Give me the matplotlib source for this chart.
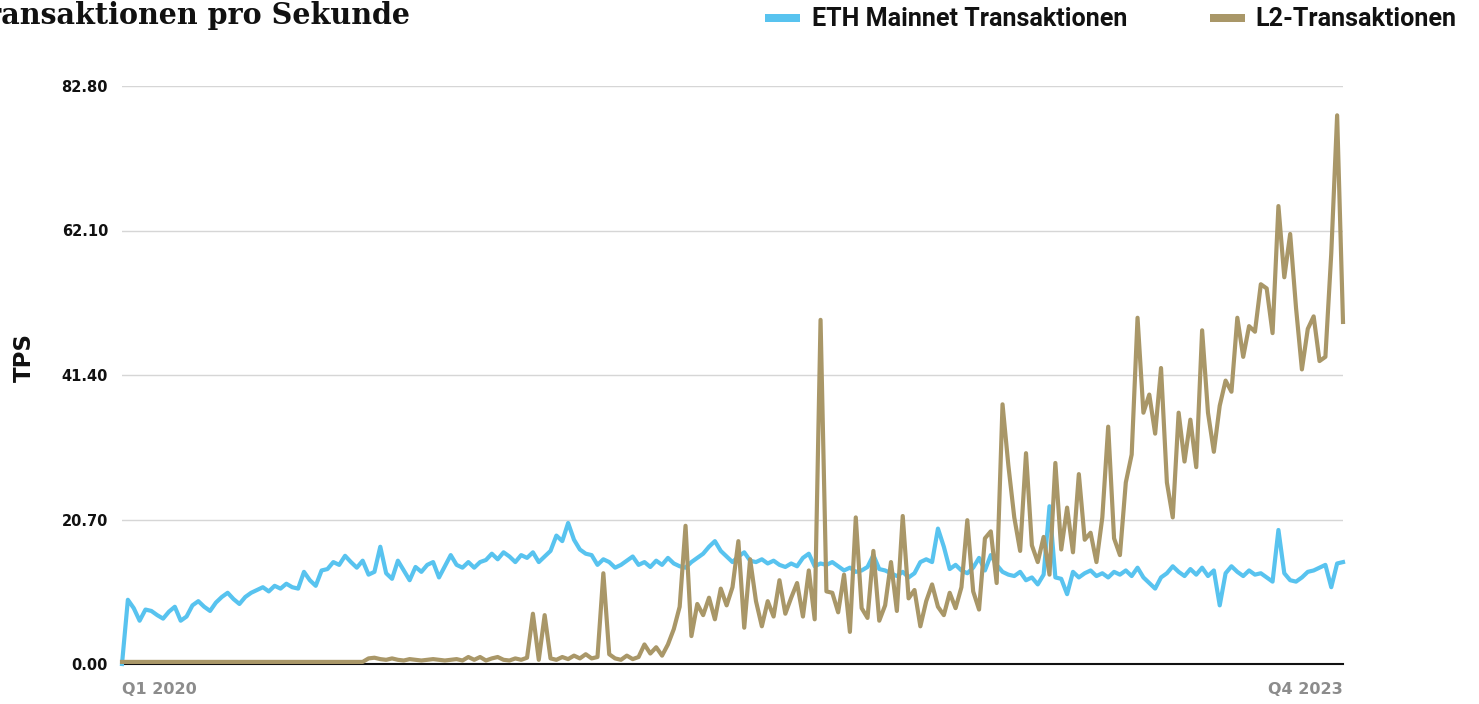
import matplotlib
matplotlib.use("Agg")
import matplotlib.pyplot as plt
import pandas as pd
from matplotlib.patches import Rectangle

# ---------------- data (weekly samples) ----------------
start_date = "2020-01-01"

eth_mainnet = [
    0.0, 9.2, 8.0, 6.2, 7.8, 7.6, 7.0, 6.5, 7.5, 8.2,
    6.2, 6.8, 8.4, 9.0, 8.2, 7.6, 8.8, 9.6, 10.2, 9.3,
    8.6, 9.6, 10.2, 10.6, 11.0, 10.4, 11.2, 10.8, 11.5, 11.0,
    10.8, 13.2, 12.0, 11.2, 13.4, 13.6, 14.6, 14.2, 15.5, 14.6,
    13.8, 14.8, 12.8, 13.2, 16.8, 13.0, 12.2, 14.8, 13.4, 12.0,
    13.9, 13.2, 14.2, 14.6, 12.4, 14.0, 15.6, 14.2, 13.8, 14.6,
    13.8, 14.6, 14.9, 15.8, 15.0, 16.0, 15.4, 14.6, 15.6, 15.2,
    16.0, 14.6, 15.4, 16.2, 18.4, 17.6, 20.2, 17.8, 16.4, 15.8,
    15.6, 14.2, 15.0, 14.6, 13.8, 14.2, 14.8, 15.4, 14.2, 14.6,
    13.9, 14.8, 14.2, 15.2, 14.4, 14.0, 13.8, 14.6, 15.2, 15.8,
    16.8, 17.6, 16.2, 15.4, 14.6, 15.4, 16.0, 14.8, 14.6, 15.0,
    14.4, 14.8, 14.2, 13.9, 14.4, 14.0, 15.2, 15.8, 14.0, 14.4,
    14.2, 14.6, 14.0, 13.4, 13.8, 13.2, 13.4, 13.9, 15.6, 13.6,
    13.4, 13.0, 12.6, 13.2, 12.4, 13.0, 14.6, 15.0, 14.6, 19.4,
    16.8, 13.6, 14.2, 13.4, 13.0, 13.8, 15.2, 13.4, 15.6, 14.2,
    13.2, 12.8, 12.6, 13.2, 12.0, 12.4, 11.4, 12.8, 22.6, 12.4,
    12.2, 10.0, 13.2, 12.4, 13.0, 13.4, 12.6, 13.0, 12.4, 13.2,
    12.8, 13.4, 12.6, 13.8, 12.4, 11.6, 10.8, 12.4, 13.0, 14.0,
    13.2, 12.6, 13.6, 12.8, 13.8, 12.6, 13.4, 8.4, 13.0, 14.0,
    13.2, 12.6, 13.4, 12.8, 13.0, 12.4, 11.8, 19.2, 13.0, 12.0,
    11.8, 12.4, 13.2, 13.4, 13.8, 14.2, 11.0, 14.4, 14.6,
]

l2_transactions = [
    0.3, 0.3, 0.3, 0.3, 0.3, 0.3, 0.3, 0.3, 0.3, 0.3,
    0.3, 0.3, 0.3, 0.3, 0.3, 0.3, 0.3, 0.3, 0.3, 0.3,
    0.3, 0.3, 0.3, 0.3, 0.3, 0.3, 0.3, 0.3, 0.3, 0.3,
    0.3, 0.3, 0.3, 0.3, 0.3, 0.3, 0.3, 0.3, 0.3, 0.3,
    0.3, 0.3, 0.8, 0.9, 0.7, 0.6, 0.8, 0.6, 0.5, 0.7,
    0.6, 0.5, 0.6, 0.7, 0.6, 0.5, 0.6, 0.7, 0.5, 1.0,
    0.6, 1.0, 0.5, 0.8, 1.0, 0.6, 0.5, 0.8, 0.6, 0.9,
    7.2, 0.6, 7.0, 0.8, 0.6, 1.0, 0.7, 1.2, 0.8, 1.4,
    0.8, 1.0, 13.0, 1.4, 0.8, 0.6, 1.2, 0.7, 1.0, 2.8,
    1.5, 2.4, 1.2, 2.8, 5.0, 8.2, 19.8, 4.0, 8.6, 7.0,
    9.5, 6.4, 10.8, 8.4, 11.0, 17.6, 5.2, 15.0, 9.0, 5.4,
    9.0, 6.8, 12.0, 7.2, 9.5, 11.6, 6.8, 13.4, 6.4, 49.3,
    10.4, 10.2, 7.4, 12.8, 4.6, 21.0, 8.0, 6.6, 16.2, 6.2,
    8.4, 14.6, 7.6, 21.2, 9.4, 10.6, 5.4, 9.0, 11.4, 8.2,
    7.0, 10.2, 8.0, 11.0, 20.6, 10.4, 7.8, 18.0, 19.0, 11.6,
    37.2, 28.4, 21.0, 16.2, 30.2, 17.0, 14.6, 18.2, 12.8, 28.8,
    16.4, 22.4, 16.0, 27.2, 17.8, 18.8, 14.6, 21.0, 34.0, 18.0,
    15.6, 26.0, 30.0, 49.6, 36.0, 38.6, 33.0, 42.4, 26.0, 21.0,
    36.0, 29.0, 35.0, 28.2, 47.8, 36.0, 30.4, 37.0, 40.6, 39.0,
    49.6, 44.0, 48.4, 47.6, 54.4, 53.8, 47.4, 65.6, 55.4, 61.6,
    51.0, 42.2, 48.0, 49.8, 43.4, 44.0, 58.8, 78.6, 49.0,
]

y_ticks = [0.0, 20.7, 41.4, 62.1, 82.8]
y_tick_labels = ["0.00", "20.70", "41.40", "62.10", "82.80"]
x_tick_labels = ["Q1 2020", "Q4 2023"]
series_names = ["ETH Mainnet Transaktionen", "L2-Transaktionen"]
title_text = "Transaktionen pro Sekunde"
y_label = "TPS"

# ---------------- style ----------------
BLUE = "#58c3ef"
TAN = "#a99768"
W, H = 1479, 704

dates = pd.date_range(start_date, periods=len(eth_mainnet), freq="7D")

fig = plt.figure(figsize=(W / 100, H / 100), dpi=100)
fig.patch.set_facecolor("white")
ax = fig.add_axes([122 / W, 40 / H, (1343 - 122) / W, (664 - 86) / H])

ax.plot(dates, eth_mainnet, color=BLUE, lw=3.0, zorder=3, clip_on=False)
ax.plot(dates, l2_transactions, color=TAN, lw=3.0, zorder=4, clip_on=False)

ax.set_xlim(dates[0], dates[-1])
ax.set_ylim(0, 82.8)
ax.set_yticks(y_ticks)
ax.set_yticklabels(y_tick_labels, fontsize=10.5, fontweight="bold",
                   fontfamily="DejaVu Sans", color="#111111")
ax.set_xticks([dates[0], dates[-1]])
xl = ax.set_xticklabels(x_tick_labels, fontsize=11.5, fontweight="bold",
                        fontfamily="DejaVu Sans", color="#8c8c8c")
xl[0].set_ha("left")
xl[1].set_ha("right")
ax.tick_params(axis="both", length=0)
ax.tick_params(axis="y", pad=10)
ax.tick_params(axis="x", pad=13)

ax.grid(axis="y", color="#d6d6d6", lw=1.0)
ax.grid(axis="x", visible=False)
ax.set_axisbelow(True)
for s in ["top", "right", "left"]:
    ax.spines[s].set_visible(False)
ax.spines["bottom"].set_color("#111111")
ax.spines["bottom"].set_linewidth(1.5)

fig.text(24 / W, 1 - 358 / H, y_label, rotation=90, ha="center", va="center",
         fontsize=16.5, fontweight="bold", fontfamily="DejaVu Sans", color="#111111")

renderer = fig.canvas.get_renderer()


def fit_size(text, target_w, family, weight, base=20):
    t = fig.text(0, 0, text, fontsize=base, fontfamily=family, fontweight=weight)
    w = t.get_window_extent(renderer).width
    t.remove()
    return base * target_w / w


# Title (cut at the left edge as in the reference)
fs_title = fit_size("ansaktionen pro Sekunde", 410, "DejaVu Serif", "bold")
fig.text(410 / W, 1 - 24 / H, title_text, ha="right", va="baseline",
         fontsize=fs_title, fontweight="bold", fontfamily="DejaVu Serif", color="#111111")

# Legend
fs_leg = fit_size(series_names[0], 314, "Roboto", "bold")
legend_items = [(765, 812, BLUE, series_names[0]), (1210, 1255, TAN, series_names[1])]
for px, tx, col, name in legend_items:
    fig.patches.append(Rectangle((px / W, 1 - 22 / H), 35 / W, 8 / H,
                                 transform=fig.transFigure, facecolor=col,
                                 edgecolor="none"))
    fig.text(tx / W, 1 - 26 / H, name, ha="left", va="baseline", fontsize=fs_leg,
             fontweight="bold", fontfamily="Roboto", color="#111111")

fig.savefig("out.png", dpi=100, facecolor="white")
